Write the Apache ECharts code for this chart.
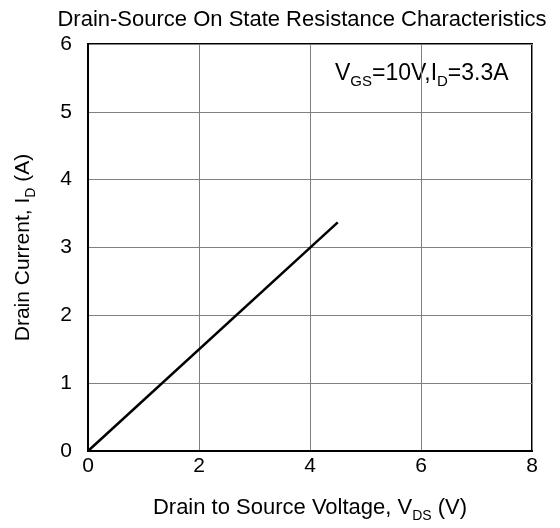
<!DOCTYPE html>
<html><head><meta charset="utf-8">
<script src="https://cdn.jsdelivr.net/npm/echarts@6/dist/echarts.min.js"></script>
<style>html,body{margin:0;padding:0;background:#fff}#c{width:560px;height:528px}</style>
</head><body><div id="c"></div>
<script>
const vdsValues = [0, 4.5];
const idValues = [0, 3.37];
const xTicks = [0, 2, 4, 6, 8];
const yTicks = [0, 1, 2, 3, 4, 5, 6];
const chart = echarts.init(document.getElementById('c'));
const F = 'Liberation Sans, Arial, sans-serif';
const sub = {fontSize: 14, fontFamily: F, color: '#000', verticalAlign: 'bottom', padding: [0,0,-4,0]};
chart.setOption({
  animation: false,
  backgroundColor: '#fff',
  title: {
    text: 'Drain-Source On State Resistance Characteristics',
    left: 297, top: 4, textAlign: 'center',
    textStyle: {fontFamily: F, fontSize: 22, fontWeight: 'normal', color: '#000'}
  },
  grid: {left: 88, top: 44, right: 28, bottom: 77, show: true, borderColor: '#000', borderWidth: 2},
  xAxis: {
    type: 'value', min: xTicks[0], max: xTicks[xTicks.length-1], interval: 2,
    name: '{a|Drain to Source Voltage, V}{s|DS}{a| (V)}',
    nameLocation: 'middle', nameGap: 46,
    nameTextStyle: {rich: {a: {fontSize: 22, fontFamily: F, color: '#000'}, s: sub}},
    axisLine: {show: true, lineStyle: {color: '#000', width: 2}},
    axisTick: {show: false},
    axisLabel: {fontSize: 21, fontFamily: F, color: '#000', margin: 5},
    splitLine: {show: true, lineStyle: {color: '#808080', width: 1}}
  },
  yAxis: {
    type: 'value', min: yTicks[0], max: yTicks[yTicks.length-1], interval: 1,
    name: '{a|Drain Current, I}{s|D}{a| (A)}',
    nameLocation: 'middle', nameGap: 54,
    nameTextStyle: {rich: {a: {fontSize: 21, fontFamily: F, color: '#000'}, s: sub}},
    axisLine: {show: true, lineStyle: {color: '#000', width: 2}},
    axisTick: {show: false},
    axisLabel: {fontSize: 21, fontFamily: F, color: '#000', margin: 16, padding: [0,0,8,0]},
    splitLine: {show: true, lineStyle: {color: '#808080', width: 1}}
  },
  graphic: [{
    type: 'text', left: 335, top: 62,
    style: {
      text: '{a|V}{s|GS}{a|=10V,I}{s|D}{a|=3.3A}',
      rich: {a: {fontSize: 23, fontFamily: F, fill: '#000'}, s: {fontSize: 15, fontFamily: F, fill: '#000', verticalAlign: 'bottom', padding: [0,0,-4,0]}}
    }
  }],
  series: [{
    type: 'line', symbol: 'none',
    data: vdsValues.map((v, i) => [v, idValues[i]]),
    lineStyle: {color: '#000', width: 2.5}
  }]
});
</script></body></html>
